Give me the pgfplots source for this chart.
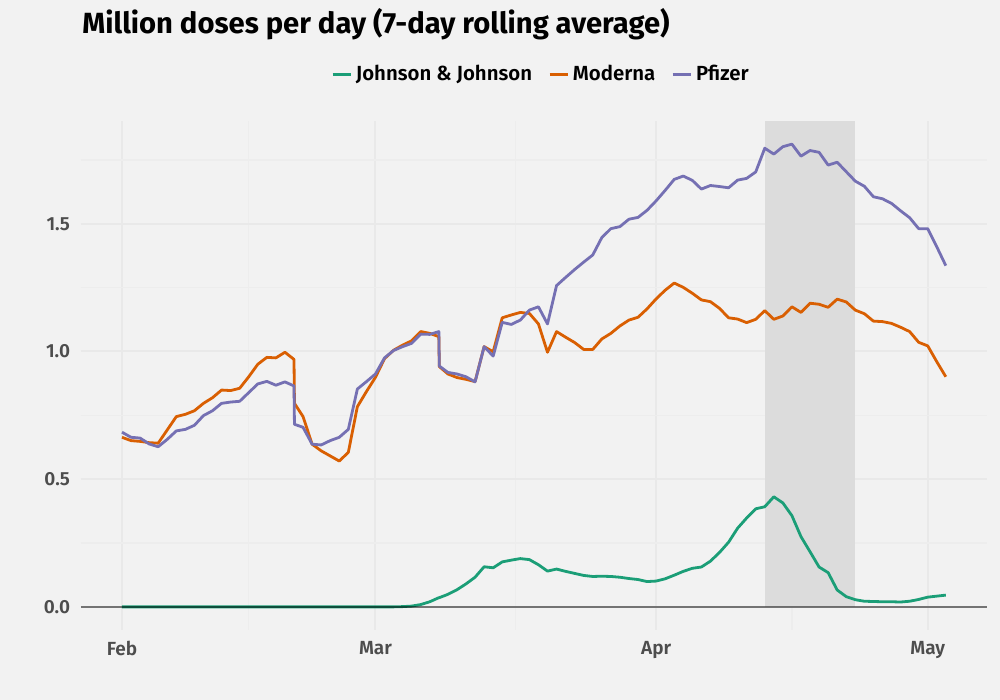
\documentclass[border=0pt]{standalone}
\usepackage{fontspec}
\setmainfont{Fira Sans}
\newfontfamily\medfont{Fira Sans SemiBold}
\usepackage{pgfplots}
\pgfplotsset{compat=1.18}
\usepackage{pgfplotstable}
\definecolor{bg}{HTML}{F2F2F2}
\definecolor{gridc}{HTML}{E9E9E9}
\definecolor{gridm}{HTML}{EDEDED}
\definecolor{shade}{HTML}{DCDCDC}
\definecolor{jj}{HTML}{1B9E77}
\definecolor{mod}{HTML}{D95F02}
\definecolor{pfz}{HTML}{7570B3}
\definecolor{tickc}{HTML}{4D4D4D}

\pgfplotstableread{
day jj mod pfz
0 0 0.664 0.684
1 0 0.651 0.664
2 0 0.648 0.661
3 0 0.643 0.638
4 0 0.641 0.627
5 0 0.693 0.656
6 0 0.745 0.689
7 0 0.754 0.695
8 0 0.768 0.711
9 0 0.797 0.749
10 0 0.819 0.768
11 0 0.849 0.797
12 0 0.847 0.802
13 0 0.856 0.805
14 0 0.901 0.839
15 0 0.950 0.873
16 0 0.977 0.883
17 0 0.975 0.868
18 0 0.997 0.881
19 0 0.969 0.865
19.05 0 0.797 0.715
20 0 0.745 0.703
21 0 0.637 0.637
22 0 0.611 0.634
23 0 0.591 0.651
24 0 0.571 0.664
25 0 0.605 0.695
26 0 0.784 0.853
27 0 0.843 0.882
28 0 0.899 0.912
29 0 0.972 0.975
30 0 1.005 1.004
31 0.001 1.025 1.019
32 0.003 1.042 1.032
33 0.009 1.078 1.068
34 0.020 1.071 1.067
35 0.036 1.058 1.078
35.05 0.036 0.941 0.943
36 0.049 0.912 0.918
37 0.067 0.898 0.912
38 0.090 0.891 0.901
39 0.116 0.882 0.881
40 0.157 1.019 1.019
41 0.153 0.999 0.982
42 0.176 1.132 1.114
43 0.183 1.143 1.106
44 0.189 1.153 1.123
45 0.185 1.149 1.162
46 0.165 1.108 1.175
47 0.140 0.997 1.108
48 0.148 1.078 1.258
49 0.139 1.056 1.290
50 0.131 1.035 1.321
51 0.123 1.008 1.350
52 0.119 1.008 1.378
53 0.120 1.049 1.446
54 0.119 1.071 1.481
55 0.116 1.100 1.489
56 0.111 1.123 1.518
57 0.107 1.134 1.525
58 0.099 1.167 1.553
59 0.101 1.206 1.590
60 0.110 1.240 1.631
61 0.124 1.268 1.674
62 0.139 1.251 1.687
63 0.151 1.228 1.670
64 0.156 1.202 1.636
65 0.179 1.195 1.650
66 0.213 1.169 1.646
67 0.253 1.132 1.641
68 0.308 1.127 1.671
69 0.348 1.113 1.678
70 0.384 1.126 1.703
71 0.392 1.160 1.796
72 0.431 1.126 1.773
73 0.407 1.139 1.802
74 0.357 1.175 1.812
75 0.275 1.153 1.765
76 0.216 1.189 1.787
77 0.156 1.185 1.780
78 0.134 1.173 1.730
79 0.066 1.205 1.741
80 0.040 1.194 1.704
81 0.028 1.162 1.667
82 0.022 1.148 1.647
83 0.021 1.119 1.606
84 0.020 1.117 1.598
85 0.020 1.110 1.580
86 0.019 1.095 1.551
87 0.022 1.078 1.524
88 0.029 1.036 1.481
89 0.038 1.022 1.481
90 0.042 0.960 1.410
91 0.046 0.901 1.336
}\vax

\begin{document}
\begin{tikzpicture}
\fill[bg] (0,0) rectangle (500pt,350pt);
\node[anchor=base west, inner sep=0pt, font=\bfseries\fontsize{14.6}{17}\selectfont] at (41pt,333pt) {Million doses per day (7-day rolling average)};
\begin{axis}[
  at={(40.4pt,35pt)}, anchor=south west,
  width=453.1pt, height=254.5pt, scale only axis,
  xmin=-4.55, xmax=95.55, ymin=-0.0906, ymax=1.9026,
  axis line style={draw=none},
  tick style={draw=none},
  xtick={0,28,59,89}, xticklabels={Feb,Mar,Apr,May},
  minor xtick={14,43.5,74},
  ytick={0,0.5,1,1.5},
  minor ytick={0.25,0.75,1.25,1.75},
  grid=both,
  major grid style={color=gridc, line width=1pt},
  minor grid style={color=gridm, line width=0.6pt},
  /pgf/number format/assume math mode=true,
  /pgf/number format/fixed,
  /pgf/number format/fixed zerofill,
  /pgf/number format/precision=1,
  ticklabel style={font=\medfont\fontsize{9.5}{11}\selectfont, text=tickc},
  xticklabel style={anchor=north, inner sep=0pt, yshift=-5.5pt},
  yticklabel style={anchor=east, inner sep=0pt, xshift=-5.2pt},
  legend style={at={(0.5,1)}, anchor=south, yshift=14.5pt, xshift=4pt, draw=none, fill=none,
    font=\medfont\fontsize{10.2}{12}\selectfont, legend columns=-1,
    /tikz/every even column/.append style={column sep=6pt}},
  legend image code/.code={\draw[#1, line width=1.4pt] (0pt,0pt) -- (9pt,0pt);},
  every axis plot/.append style={line join=round},
]
\addplot[draw=none, fill=shade, forget plot] coordinates {(71,0) (71,1.9026) (81,1.9026) (81,0)} -- cycle;
\addplot[jj, line width=1.4pt] table[x=day, y=jj] {\vax};
\addlegendentry{Johnson \& Johnson}
\addplot[black, opacity=0.5, line width=0.8pt, forget plot] coordinates {(-4.55,0) (95.55,0)};
\addplot[mod, line width=1.4pt] table[x=day, y=mod] {\vax};
\addlegendentry{Moderna}
\addplot[pfz, line width=1.4pt] table[x=day, y=pfz] {\vax};
\addlegendentry{Pfizer}
\end{axis}
\end{tikzpicture}
\end{document}
